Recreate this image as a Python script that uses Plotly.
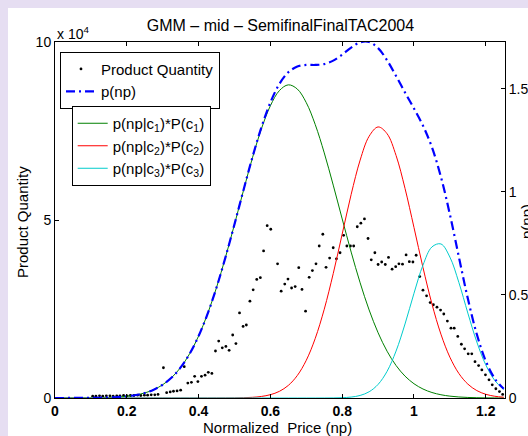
import plotly.graph_objects as go

# ---- data ----
price_np = [0.105, 0.114, 0.124, 0.133, 0.143, 0.153, 0.162, 0.172, 0.181, 0.191,
            0.201, 0.210, 0.220, 0.230, 0.239, 0.249, 0.258, 0.268, 0.278, 0.287,
            0.302, 0.311, 0.321, 0.330, 0.340, 0.350, 0.360, 0.370, 0.380, 0.389,
            0.398, 0.408, 0.418, 0.427, 0.437, 0.447, 0.456, 0.466, 0.476, 0.485,
            0.495, 0.504, 0.514, 0.524, 0.533, 0.543, 0.552, 0.562, 0.572, 0.581,
            0.591, 0.601, 0.620, 0.630, 0.640, 0.649, 0.659, 0.669, 0.679, 0.688,
            0.698, 0.708, 0.717, 0.727, 0.736, 0.746, 0.755, 0.765, 0.775, 0.784,
            0.794, 0.804, 0.813, 0.823, 0.832, 0.842, 0.852, 0.862, 0.872, 0.881,
            0.891, 0.900, 0.910, 0.920, 0.929, 0.939, 0.949, 0.958, 0.968, 0.978,
            0.987, 0.997, 1.006, 1.016, 1.025, 1.035, 1.045, 1.054, 1.064, 1.074,
            1.083, 1.093, 1.103, 1.112, 1.122, 1.132, 1.141, 1.151, 1.161, 1.170,
            1.180, 1.189, 1.199, 1.209, 1.218, 1.228, 1.238, 1.247]
quantity_1e4 = [0.05, 0.05, 0.06, 0.05, 0.06, 0.06, 0.05, 0.06, 0.06, 0.07,
                0.06, 0.07, 0.07, 0.08, 0.07, 0.08, 0.08, 0.09, 0.09, 0.10,
                0.85, 0.15, 0.17, 0.19, 0.20, 0.22, 0.88, 0.42, 0.44, 0.61,
                0.46, 0.61, 0.64, 0.72, 0.69, 1.32, 1.60, 1.41, 1.45, 1.34,
                1.77, 1.53, 2.39, 2.01, 2.05, 2.72, 3.04, 3.33, 3.38, 4.13,
                4.84, 4.74, 3.77, 3.00, 3.20, 3.34, 3.09, 3.13, 3.66, 3.05,
                2.44, 3.39, 3.58, 3.77, 4.27, 4.60, 3.67, 3.93, 4.22, 3.91,
                4.08, 4.57, 4.27, 4.27, 4.27, 4.81, 4.91, 5.03, 4.48, 3.88,
                4.08, 3.75, 3.82, 3.75, 3.95, 3.62, 3.69, 3.77, 3.76, 4.02,
                3.83, 3.82, 4.01, 3.41, 3.03, 2.87, 2.68, 2.62, 2.55, 2.47,
                2.36, 2.16, 1.96, 1.96, 1.73, 1.51, 1.38, 1.24, 1.24, 1.02,
                0.91, 0.79, 0.65, 0.51, 0.37, 0.26, 0.18, 0.10]

curve_x = [0.000, 0.025, 0.050, 0.075, 0.100, 0.125, 0.150, 0.175, 0.200, 0.225,
           0.250, 0.275, 0.300, 0.325, 0.350, 0.375, 0.400, 0.425, 0.450, 0.475,
           0.500, 0.525, 0.550, 0.575, 0.600, 0.625, 0.650, 0.675, 0.700, 0.725,
           0.750, 0.775, 0.800, 0.825, 0.850, 0.875, 0.900, 0.925, 0.950, 0.975,
           1.000, 1.025, 1.050, 1.075, 1.100, 1.125, 1.150, 1.175, 1.200, 1.225, 1.250]
p_np = [0.0000, 0.0001, 0.0002, 0.0003, 0.0006, 0.0013, 0.0025, 0.0046, 0.0083, 0.0145,
        0.0246, 0.0405, 0.0644, 0.0993, 0.1483, 0.2147, 0.3008, 0.4083, 0.5368, 0.6837,
        0.8436, 1.0087, 1.1690, 1.3141, 1.4347, 1.5243, 1.5812, 1.6088, 1.6166, 1.6165,
        1.6209, 1.6375, 1.6668, 1.7011, 1.7264, 1.7280, 1.6983, 1.6393, 1.5630, 1.4828,
        1.4050, 1.3220, 1.2168, 1.0735, 0.8911, 0.6849, 0.4825, 0.3092, 0.1793, 0.0940, 0.0445]
p_c1 = [0.0000, 0.0001, 0.0002, 0.0003, 0.0006, 0.0013, 0.0025, 0.0046, 0.0083, 0.0145,
        0.0246, 0.0405, 0.0644, 0.0993, 0.1483, 0.2147, 0.3008, 0.4083, 0.5367, 0.6835,
        0.8431, 1.0073, 1.1657, 1.3066, 1.4186, 1.4920, 1.5200, 1.4996, 1.4333, 1.3268,
        1.1897, 1.0333, 0.8693, 0.7083, 0.5591, 0.4274, 0.3166, 0.2271, 0.1578, 0.1061,
        0.0692, 0.0437, 0.0267, 0.0158, 0.0091, 0.0050, 0.0027, 0.0014, 0.0007, 0.0003, 0.0002]
p_c2 = [0.0000, 0.0000, 0.0000, 0.0000, 0.0000, 0.0000, 0.0000, 0.0000, 0.0000, 0.0000,
        0.0000, 0.0000, 0.0000, 0.0000, 0.0000, 0.0000, 0.0000, 0.0000, 0.0001, 0.0002,
        0.0005, 0.0014, 0.0033, 0.0075, 0.0161, 0.0323, 0.0612, 0.1092, 0.1833, 0.2897,
        0.4311, 0.6038, 0.7960, 0.9883, 1.1549, 1.2704, 1.3157, 1.2828, 1.1774, 1.0174,
        0.8275, 0.6336, 0.4568, 0.3099, 0.1981, 0.1191, 0.0675, 0.0360, 0.0180, 0.0085, 0.0038]
p_c3 = [0.0000, 0.0000, 0.0000, 0.0000, 0.0000, 0.0000, 0.0000, 0.0000, 0.0000, 0.0000,
        0.0000, 0.0000, 0.0000, 0.0000, 0.0000, 0.0000, 0.0000, 0.0000, 0.0000, 0.0000,
        0.0000, 0.0000, 0.0000, 0.0000, 0.0000, 0.0000, 0.0000, 0.0000, 0.0000, 0.0000,
        0.0001, 0.0004, 0.0015, 0.0045, 0.0124, 0.0302, 0.0660, 0.1294, 0.2278, 0.3593,
        0.5083, 0.6447, 0.7333, 0.7478, 0.6839, 0.5608, 0.4123, 0.2718, 0.1606, 0.0852, 0.0405]

x_ticks = [0, 0.2, 0.4, 0.6, 0.8, 1.0, 1.2]
x_tick_labels = ["0", "0.2", "0.4", "0.6", "0.8", "1", "1.2"]
y_ticks = [0, 5, 10]
y_tick_labels = ["0", "5", "10"]
y2_ticks = [0, 0.5, 1, 1.5]
y2_tick_labels = ["0", "0.5", "1", "1.5"]

FONT = "Liberation Sans, Arial, sans-serif"

# plot area in pixels
W, H = 528, 436
L, R, T, B = 55, 505, 42, 398
pw, ph = R - L, B - T

def px_x(px):
    return (px - L) / pw

def px_y(py):
    return (B - py) / ph

fig = go.Figure()

fig.add_trace(go.Scatter(
    x=curve_x, y=p_c1, yaxis="y2", mode="lines", line_shape="spline",
    line=dict(color="#008000", width=1), name="p(np|c<sub>1</sub>)*P(c<sub>1</sub>)",
    legend="legend2"))
fig.add_trace(go.Scatter(
    x=curve_x, y=p_c2, yaxis="y2", mode="lines", line_shape="spline",
    line=dict(color="#FF0000", width=1), name="p(np|c<sub>2</sub>)*P(c<sub>2</sub>)",
    legend="legend2"))
fig.add_trace(go.Scatter(
    x=curve_x, y=p_c3, yaxis="y2", mode="lines", line_shape="spline",
    line=dict(color="#00CCCC", width=1), name="p(np|c<sub>3</sub>)*P(c<sub>3</sub>)",
    legend="legend2"))
fig.add_trace(go.Scatter(
    x=curve_x, y=p_np, yaxis="y2", mode="lines", line_shape="spline",
    line=dict(color="#0000FF", width=2.2, dash="9px,4px,2px,4px"), name="p(np)",
    legend="legend"))
fig.add_trace(go.Scatter(
    x=price_np, y=quantity_1e4, mode="markers",
    marker=dict(color="black", size=2.8, symbol="circle"), name="Product Quantity",
    legend="legend"))

fig.data[4].legendrank = 1
fig.data[3].legendrank = 2

axis_common = dict(showline=True, linecolor="black", linewidth=1, ticks="inside",
                   ticklen=4, tickcolor="black", showgrid=False, zeroline=False,
                   automargin=False)

fig.update_layout(
    width=W, height=H,
    margin=dict(l=L, r=W - R, t=T, b=H - B, pad=0, autoexpand=False),
    paper_bgcolor="#E6DEF2", plot_bgcolor="white",
    font=dict(family=FONT, color="black", size=14),
    showlegend=True,
    title=dict(text="GMM \u2013 mid \u2013 SemifinalFinalTAC2004", x=px_x(280.5),
               xanchor="center", xref="paper", y=1 - 25 / H, yanchor="middle", yref="container",
               automargin=False,
               font=dict(size=16, family=FONT, color="black")),
    xaxis=dict(range=[0, 1.2535], tickvals=x_ticks, ticktext=x_tick_labels,
               mirror="ticks", tickfont=dict(size=14, weight="bold"), **axis_common),
    yaxis=dict(range=[0, 10], tickvals=y_ticks, ticktext=y_tick_labels,
               tickfont=dict(size=14), **axis_common),
    yaxis2=dict(range=[0, 1.728], tickvals=y2_ticks, ticktext=y2_tick_labels,
                overlaying="y", side="right", tickfont=dict(size=14), **axis_common),
    legend=dict(x=px_x(60), y=px_y(51.7), xanchor="left", yanchor="top",
                bgcolor="white", bordercolor="black", borderwidth=1,
                font=dict(size=15, family=FONT), itemwidth=30,
                tracegroupgap=0, traceorder="normal"),
    legend2=dict(x=px_x(71.7), y=px_y(106), xanchor="left", yanchor="top",
                 bgcolor="white", bordercolor="black", borderwidth=1,
                 font=dict(size=15, family=FONT), itemwidth=30,
                 tracegroupgap=0, traceorder="normal"),
    shapes=[dict(type="rect", xref="paper", yref="paper", layer="below",
                 x0=px_x(8), x1=px_x(530), y0=px_y(438), y1=px_y(8),
                 fillcolor="white", line=dict(width=0))],
    annotations=[
        dict(text="x 10<sup>4</sup>", x=px_x(55), y=px_y(33), xref="paper", yref="paper",
             xanchor="left", yanchor="middle", showarrow=False, font=dict(size=14)),
        dict(text="Normalized\u00a0 Price (np)", x=px_x(277.7), y=px_y(427), xref="paper",
             yref="paper", xanchor="center", yanchor="middle", showarrow=False,
             font=dict(size=15)),
        dict(text="Product Quantity", x=px_x(22), y=px_y(222), xref="paper", yref="paper",
             xanchor="center", yanchor="middle", showarrow=False, textangle=-90,
             font=dict(size=15)),
        dict(text="p(np)", x=px_x(526), y=px_y(222), xref="paper", yref="paper",
             xanchor="center", yanchor="middle", showarrow=False, textangle=-90,
             font=dict(size=15)),
    ],
)

fig.write_html("out.html")
